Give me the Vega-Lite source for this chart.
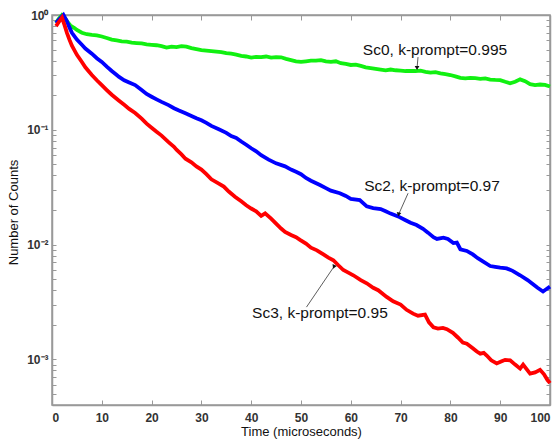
{
  "$schema": "https://vega.github.io/schema/vega-lite/v6.json",
  "width": 498,
  "height": 390,
  "autosize": {"type": "none"},
  "padding": {"left": 52, "top": 15, "right": 4, "bottom": 36},
  "background": "white",
  "config": {
    "view": {"stroke": "#999999", "strokeWidth": 1.5},
    "font": "Liberation Sans",
    "axis": {
      "grid": false,
      "domainColor": "#999999",
      "domainWidth": 1.5,
      "tickColor": "#999999",
      "tickWidth": 1,
      "labelFont": "Liberation Sans",
      "labelFontSize": 12,
      "labelColor": "#333333",
      "titleFont": "Liberation Sans",
      "titleFontSize": 13,
      "titleFontWeight": "normal",
      "titleColor": "#111111"
    }
  },
  "datasets": {
    "curves": [
      {"t":0.8,"v":0.85,"s":"Sc0"},{"t":1.3,"v":0.92,"s":"Sc0"},{"t":2.0,"v":1.0,"s":"Sc0"},{"t":2.7,"v":0.93,"s":"Sc0"},{"t":3.2,"v":0.86,"s":"Sc0"},{"t":3.7,"v":0.81,"s":"Sc0"},{"t":4.5,"v":0.77,"s":"Sc0"},{"t":5,"v":0.74,"s":"Sc0"},{"t":6,"v":0.70,"s":"Sc0"},{"t":7,"v":0.68,"s":"Sc0"},{"t":8,"v":0.67,"s":"Sc0"},{"t":9,"v":0.665,"s":"Sc0"},{"t":10,"v":0.65,"s":"Sc0"},{"t":11,"v":0.63,"s":"Sc0"},{"t":12,"v":0.61,"s":"Sc0"},{"t":13,"v":0.60,"s":"Sc0"},{"t":14,"v":0.59,"s":"Sc0"},{"t":15,"v":0.585,"s":"Sc0"},{"t":16,"v":0.575,"s":"Sc0"},{"t":17,"v":0.57,"s":"Sc0"},{"t":18,"v":0.565,"s":"Sc0"},{"t":19,"v":0.555,"s":"Sc0"},{"t":20,"v":0.55,"s":"Sc0"},{"t":21,"v":0.545,"s":"Sc0"},{"t":22,"v":0.535,"s":"Sc0"},{"t":23,"v":0.52,"s":"Sc0"},{"t":24,"v":0.53,"s":"Sc0"},{"t":25,"v":0.525,"s":"Sc0"},{"t":26,"v":0.535,"s":"Sc0"},{"t":27,"v":0.53,"s":"Sc0"},{"t":28,"v":0.515,"s":"Sc0"},{"t":29,"v":0.505,"s":"Sc0"},{"t":30,"v":0.495,"s":"Sc0"},{"t":32,"v":0.485,"s":"Sc0"},{"t":34,"v":0.475,"s":"Sc0"},{"t":35,"v":0.465,"s":"Sc0"},{"t":36,"v":0.46,"s":"Sc0"},{"t":37,"v":0.452,"s":"Sc0"},{"t":38,"v":0.44,"s":"Sc0"},{"t":39,"v":0.435,"s":"Sc0"},{"t":40,"v":0.425,"s":"Sc0"},{"t":41,"v":0.432,"s":"Sc0"},{"t":42,"v":0.43,"s":"Sc0"},{"t":43,"v":0.435,"s":"Sc0"},{"t":44,"v":0.425,"s":"Sc0"},{"t":45,"v":0.43,"s":"Sc0"},{"t":46,"v":0.428,"s":"Sc0"},{"t":47,"v":0.415,"s":"Sc0"},{"t":48,"v":0.405,"s":"Sc0"},{"t":49,"v":0.395,"s":"Sc0"},{"t":50,"v":0.39,"s":"Sc0"},{"t":51,"v":0.395,"s":"Sc0"},{"t":52,"v":0.40,"s":"Sc0"},{"t":53,"v":0.40,"s":"Sc0"},{"t":54,"v":0.405,"s":"Sc0"},{"t":55,"v":0.395,"s":"Sc0"},{"t":56,"v":0.39,"s":"Sc0"},{"t":57,"v":0.395,"s":"Sc0"},{"t":58,"v":0.38,"s":"Sc0"},{"t":59,"v":0.375,"s":"Sc0"},{"t":60,"v":0.367,"s":"Sc0"},{"t":61,"v":0.37,"s":"Sc0"},{"t":62,"v":0.36,"s":"Sc0"},{"t":63,"v":0.35,"s":"Sc0"},{"t":64,"v":0.345,"s":"Sc0"},{"t":65,"v":0.34,"s":"Sc0"},{"t":66,"v":0.335,"s":"Sc0"},{"t":67,"v":0.33,"s":"Sc0"},{"t":68,"v":0.335,"s":"Sc0"},{"t":69,"v":0.33,"s":"Sc0"},{"t":70,"v":0.328,"s":"Sc0"},{"t":71,"v":0.325,"s":"Sc0"},{"t":72,"v":0.325,"s":"Sc0"},{"t":73,"v":0.325,"s":"Sc0"},{"t":74,"v":0.327,"s":"Sc0"},{"t":75,"v":0.32,"s":"Sc0"},{"t":76,"v":0.315,"s":"Sc0"},{"t":77,"v":0.318,"s":"Sc0"},{"t":78,"v":0.31,"s":"Sc0"},{"t":79,"v":0.305,"s":"Sc0"},{"t":80,"v":0.30,"s":"Sc0"},{"t":81,"v":0.292,"s":"Sc0"},{"t":82,"v":0.283,"s":"Sc0"},{"t":83,"v":0.28,"s":"Sc0"},{"t":84,"v":0.283,"s":"Sc0"},{"t":85,"v":0.282,"s":"Sc0"},{"t":86,"v":0.278,"s":"Sc0"},{"t":87,"v":0.28,"s":"Sc0"},{"t":88,"v":0.274,"s":"Sc0"},{"t":89,"v":0.272,"s":"Sc0"},{"t":90,"v":0.271,"s":"Sc0"},{"t":91,"v":0.262,"s":"Sc0"},{"t":92,"v":0.254,"s":"Sc0"},{"t":93,"v":0.262,"s":"Sc0"},{"t":94,"v":0.275,"s":"Sc0"},{"t":95,"v":0.265,"s":"Sc0"},{"t":96,"v":0.25,"s":"Sc0"},{"t":97,"v":0.245,"s":"Sc0"},{"t":98,"v":0.248,"s":"Sc0"},{"t":99,"v":0.246,"s":"Sc0"},{"t":100,"v":0.238,"s":"Sc0"},

      {"t":0.8,"v":0.85,"s":"Sc2"},{"t":1.5,"v":0.92,"s":"Sc2"},{"t":2.3,"v":1.0,"s":"Sc2"},{"t":3,"v":0.88,"s":"Sc2"},{"t":3.5,"v":0.78,"s":"Sc2"},{"t":4,"v":0.70,"s":"Sc2"},{"t":5,"v":0.61,"s":"Sc2"},{"t":6,"v":0.55,"s":"Sc2"},{"t":6.7,"v":0.51,"s":"Sc2"},{"t":8,"v":0.46,"s":"Sc2"},{"t":9,"v":0.42,"s":"Sc2"},{"t":10,"v":0.39,"s":"Sc2"},{"t":11,"v":0.355,"s":"Sc2"},{"t":12,"v":0.325,"s":"Sc2"},{"t":13,"v":0.30,"s":"Sc2"},{"t":13.4,"v":0.29,"s":"Sc2"},{"t":14.5,"v":0.27,"s":"Sc2"},{"t":15.5,"v":0.258,"s":"Sc2"},{"t":16.7,"v":0.245,"s":"Sc2"},{"t":18,"v":0.222,"s":"Sc2"},{"t":19,"v":0.205,"s":"Sc2"},{"t":20,"v":0.194,"s":"Sc2"},{"t":21,"v":0.184,"s":"Sc2"},{"t":22,"v":0.175,"s":"Sc2"},{"t":23.4,"v":0.164,"s":"Sc2"},{"t":24.5,"v":0.154,"s":"Sc2"},{"t":25.5,"v":0.147,"s":"Sc2"},{"t":26.8,"v":0.139,"s":"Sc2"},{"t":28,"v":0.132,"s":"Sc2"},{"t":29,"v":0.126,"s":"Sc2"},{"t":30,"v":0.121,"s":"Sc2"},{"t":31,"v":0.115,"s":"Sc2"},{"t":32,"v":0.108,"s":"Sc2"},{"t":33.5,"v":0.101,"s":"Sc2"},{"t":35,"v":0.094,"s":"Sc2"},{"t":36,"v":0.088,"s":"Sc2"},{"t":37,"v":0.085,"s":"Sc2"},{"t":38,"v":0.079,"s":"Sc2"},{"t":39,"v":0.074,"s":"Sc2"},{"t":40,"v":0.069,"s":"Sc2"},{"t":41,"v":0.065,"s":"Sc2"},{"t":42,"v":0.060,"s":"Sc2"},{"t":43.5,"v":0.055,"s":"Sc2"},{"t":45,"v":0.051,"s":"Sc2"},{"t":46.8,"v":0.048,"s":"Sc2"},{"t":48,"v":0.045,"s":"Sc2"},{"t":49,"v":0.043,"s":"Sc2"},{"t":50,"v":0.041,"s":"Sc2"},{"t":51,"v":0.038,"s":"Sc2"},{"t":52,"v":0.036,"s":"Sc2"},{"t":53.8,"v":0.033,"s":"Sc2"},{"t":55,"v":0.031,"s":"Sc2"},{"t":56,"v":0.0295,"s":"Sc2"},{"t":57.8,"v":0.028,"s":"Sc2"},{"t":59,"v":0.0265,"s":"Sc2"},{"t":60,"v":0.025,"s":"Sc2"},{"t":61.8,"v":0.0244,"s":"Sc2"},{"t":63.2,"v":0.0215,"s":"Sc2"},{"t":64.5,"v":0.0208,"s":"Sc2"},{"t":66,"v":0.0204,"s":"Sc2"},{"t":67,"v":0.0195,"s":"Sc2"},{"t":68,"v":0.0186,"s":"Sc2"},{"t":69.5,"v":0.0176,"s":"Sc2"},{"t":71,"v":0.0163,"s":"Sc2"},{"t":72,"v":0.0155,"s":"Sc2"},{"t":73.2,"v":0.0148,"s":"Sc2"},{"t":74.5,"v":0.0137,"s":"Sc2"},{"t":75.5,"v":0.0127,"s":"Sc2"},{"t":76.6,"v":0.0116,"s":"Sc2"},{"t":77.3,"v":0.0112,"s":"Sc2"},{"t":78.6,"v":0.0115,"s":"Sc2"},{"t":79.5,"v":0.0112,"s":"Sc2"},{"t":80.6,"v":0.0103,"s":"Sc2"},{"t":81.3,"v":0.0104,"s":"Sc2"},{"t":82,"v":0.0091,"s":"Sc2"},{"t":83.3,"v":0.0088,"s":"Sc2"},{"t":84.5,"v":0.0082,"s":"Sc2"},{"t":85.5,"v":0.0076,"s":"Sc2"},{"t":86.6,"v":0.0071,"s":"Sc2"},{"t":88,"v":0.0065,"s":"Sc2"},{"t":89,"v":0.0064,"s":"Sc2"},{"t":90,"v":0.0063,"s":"Sc2"},{"t":91.3,"v":0.0062,"s":"Sc2"},{"t":92.5,"v":0.0059,"s":"Sc2"},{"t":94,"v":0.0054,"s":"Sc2"},{"t":95.5,"v":0.0049,"s":"Sc2"},{"t":96.6,"v":0.0045,"s":"Sc2"},{"t":97.5,"v":0.0042,"s":"Sc2"},{"t":98.6,"v":0.0039,"s":"Sc2"},{"t":99.3,"v":0.0041,"s":"Sc2"},{"t":100,"v":0.0043,"s":"Sc2"},

      {"t":0.8,"v":0.80,"s":"Sc3"},{"t":1.3,"v":0.86,"s":"Sc3"},{"t":2,"v":0.95,"s":"Sc3"},{"t":2.5,"v":0.82,"s":"Sc3"},{"t":3,"v":0.70,"s":"Sc3"},{"t":3.5,"v":0.61,"s":"Sc3"},{"t":4,"v":0.54,"s":"Sc3"},{"t":5,"v":0.45,"s":"Sc3"},{"t":6,"v":0.39,"s":"Sc3"},{"t":6.7,"v":0.35,"s":"Sc3"},{"t":8,"v":0.30,"s":"Sc3"},{"t":9,"v":0.27,"s":"Sc3"},{"t":10,"v":0.245,"s":"Sc3"},{"t":11,"v":0.222,"s":"Sc3"},{"t":12,"v":0.202,"s":"Sc3"},{"t":13.4,"v":0.18,"s":"Sc3"},{"t":14.5,"v":0.165,"s":"Sc3"},{"t":15.5,"v":0.152,"s":"Sc3"},{"t":16.7,"v":0.14,"s":"Sc3"},{"t":18,"v":0.125,"s":"Sc3"},{"t":19,"v":0.113,"s":"Sc3"},{"t":20,"v":0.104,"s":"Sc3"},{"t":21,"v":0.096,"s":"Sc3"},{"t":22,"v":0.089,"s":"Sc3"},{"t":23.4,"v":0.078,"s":"Sc3"},{"t":24.5,"v":0.071,"s":"Sc3"},{"t":25,"v":0.067,"s":"Sc3"},{"t":26,"v":0.061,"s":"Sc3"},{"t":26.8,"v":0.056,"s":"Sc3"},{"t":28,"v":0.052,"s":"Sc3"},{"t":29,"v":0.048,"s":"Sc3"},{"t":30,"v":0.045,"s":"Sc3"},{"t":31,"v":0.041,"s":"Sc3"},{"t":32,"v":0.037,"s":"Sc3"},{"t":33.5,"v":0.034,"s":"Sc3"},{"t":34.5,"v":0.032,"s":"Sc3"},{"t":35.5,"v":0.029,"s":"Sc3"},{"t":36.8,"v":0.026,"s":"Sc3"},{"t":38,"v":0.0238,"s":"Sc3"},{"t":39,"v":0.022,"s":"Sc3"},{"t":40,"v":0.0206,"s":"Sc3"},{"t":41,"v":0.0195,"s":"Sc3"},{"t":42,"v":0.0178,"s":"Sc3"},{"t":42.8,"v":0.0187,"s":"Sc3"},{"t":44,"v":0.0168,"s":"Sc3"},{"t":45,"v":0.0152,"s":"Sc3"},{"t":46,"v":0.0138,"s":"Sc3"},{"t":46.8,"v":0.0129,"s":"Sc3"},{"t":48,"v":0.0121,"s":"Sc3"},{"t":49,"v":0.0116,"s":"Sc3"},{"t":49.8,"v":0.011,"s":"Sc3"},{"t":51,"v":0.0102,"s":"Sc3"},{"t":52,"v":0.0094,"s":"Sc3"},{"t":53.2,"v":0.0089,"s":"Sc3"},{"t":54.5,"v":0.0082,"s":"Sc3"},{"t":55.5,"v":0.0077,"s":"Sc3"},{"t":56.5,"v":0.0073,"s":"Sc3"},{"t":57.5,"v":0.0066,"s":"Sc3"},{"t":58.5,"v":0.006,"s":"Sc3"},{"t":59.5,"v":0.0057,"s":"Sc3"},{"t":60.5,"v":0.0054,"s":"Sc3"},{"t":62,"v":0.0049,"s":"Sc3"},{"t":63.2,"v":0.0046,"s":"Sc3"},{"t":64.5,"v":0.0042,"s":"Sc3"},{"t":65.5,"v":0.004,"s":"Sc3"},{"t":67.2,"v":0.0035,"s":"Sc3"},{"t":68.5,"v":0.0032,"s":"Sc3"},{"t":70,"v":0.003,"s":"Sc3"},{"t":71.2,"v":0.0027,"s":"Sc3"},{"t":72.5,"v":0.0025,"s":"Sc3"},{"t":73.5,"v":0.0024,"s":"Sc3"},{"t":74.9,"v":0.00245,"s":"Sc3"},{"t":75.7,"v":0.0021,"s":"Sc3"},{"t":76.6,"v":0.0019,"s":"Sc3"},{"t":77.5,"v":0.00185,"s":"Sc3"},{"t":78.5,"v":0.00188,"s":"Sc3"},{"t":79.3,"v":0.00183,"s":"Sc3"},{"t":80.5,"v":0.0017,"s":"Sc3"},{"t":81.5,"v":0.00155,"s":"Sc3"},{"t":82.5,"v":0.0014,"s":"Sc3"},{"t":83.3,"v":0.00137,"s":"Sc3"},{"t":84.5,"v":0.00125,"s":"Sc3"},{"t":85.3,"v":0.00117,"s":"Sc3"},{"t":86,"v":0.00112,"s":"Sc3"},{"t":86.7,"v":0.00114,"s":"Sc3"},{"t":87.3,"v":0.00108,"s":"Sc3"},{"t":88.2,"v":0.00098,"s":"Sc3"},{"t":89.3,"v":0.00092,"s":"Sc3"},{"t":90.3,"v":0.00096,"s":"Sc3"},{"t":91,"v":0.00099,"s":"Sc3"},{"t":92,"v":0.00098,"s":"Sc3"},{"t":93,"v":0.0009,"s":"Sc3"},{"t":94,"v":0.00083,"s":"Sc3"},{"t":94.6,"v":0.0009,"s":"Sc3"},{"t":95.3,"v":0.00082,"s":"Sc3"},{"t":96,"v":0.00075,"s":"Sc3"},{"t":97,"v":0.00077,"s":"Sc3"},{"t":98,"v":0.00081,"s":"Sc3"},{"t":98.8,"v":0.00074,"s":"Sc3"},{"t":99.5,"v":0.00066,"s":"Sc3"},{"t":100,"v":0.00062,"s":"Sc3"}
    ],
    "notes": [
      {"s":"Sc0","label":"Sc0, k-prompt=0.995","lx":76.9,"ly":0.495,"ax":73.5,"ay":0.43,"bx":73.3,"by":0.345},
      {"s":"Sc2","label":"Sc2, k-prompt=0.97","lx":76.3,"ly":0.0323,"ax":71.5,"ay":0.028,"bx":69.6,"by":0.0183},
      {"s":"Sc3","label":"Sc3, k-prompt=0.95","lx":53.8,"ly":0.00252,"ax":51.1,"ay":0.00285,"bx":56.6,"by":0.0064}
    ]
  },
  "layer": [
    {
      "data": {"name": "curves"},
      "mark": {"type": "line", "strokeWidth": 3.8, "interpolate": "linear"},
      "encoding": {
        "x": {
          "field": "t", "type": "quantitative",
          "scale": {"domain": [0, 100], "nice": false, "zero": false},
          "axis": {
            "orient": "bottom",
            "title": "Time (microseconds)",
            "values": [0,10,20,30,40,50,60,70,80,90,100],
            "tickSize": -5,
            "labelPadding": 12,
            "titlePadding": 2,
            "labelFontWeight": "bold"
          }
        },
        "y": {
          "field": "v", "type": "quantitative",
          "scale": {"type": "log", "domain": [0.0004, 1], "nice": false},
          "axis": {
            "orient": "left",
            "title": "Number of Counts",
            "values": [0.0005,0.0006,0.0007,0.0008,0.0009,0.001,0.002,0.003,0.004,0.005,0.006,0.007,0.008,0.009,0.01,0.02,0.03,0.04,0.05,0.06,0.07,0.08,0.09,0.1,0.2,0.3,0.4,0.5,0.6,0.7,0.8,0.9,1],
            "labelExpr": "datum.value == 1 ? '10⁰' : datum.value == 0.1 ? '10⁻¹' : datum.value == 0.01 ? '10⁻²' : datum.value == 0.001 ? '10⁻³' : ''",
            "tickSize": -4,
            "labelPadding": 8,
            "titleX": -32,
            "titleY": 197,
            "labelFontWeight": "bold"
          }
        },
        "color": {
          "field": "s", "type": "nominal",
          "scale": {"domain": ["Sc0", "Sc2", "Sc3"], "range": ["#11f011", "#0000ff", "#ff0000"]},
          "legend": null
        }
      }
    },
    {
      "data": {"name": "notes"},
      "mark": {"type": "rule", "stroke": "#333333", "strokeWidth": 0.8},
      "encoding": {
        "x": {"field": "ax", "type": "quantitative", "axis": null},
        "y": {"field": "ay", "type": "quantitative", "scale": {"type": "log"}, "axis": null},
        "x2": {"field": "bx"},
        "y2": {"field": "by"}
      }
    },
    {
      "data": {"name": "notes"},
      "mark": {"type": "point", "shape": "triangle-down", "filled": true, "color": "#111111", "size": 22, "opacity": 1},
      "encoding": {
        "x": {"field": "bx", "type": "quantitative", "axis": null},
        "y": {"field": "by", "type": "quantitative", "scale": {"type": "log"}, "axis": null},
        "angle": {"field": "s", "type": "nominal", "scale": {"domain": ["Sc0", "Sc2", "Sc3"], "range": [0, 24, 213]}, "legend": null}
      }
    },
    {
      "data": {"name": "notes"},
      "mark": {"type": "text", "font": "Liberation Sans", "fontSize": 15.5, "color": "#111111", "align": "center", "baseline": "middle"},
      "encoding": {
        "x": {"field": "lx", "type": "quantitative", "axis": null},
        "y": {"field": "ly", "type": "quantitative", "scale": {"type": "log"}, "axis": null},
        "text": {"field": "label"}
      }
    },
    {
      "data": {"name": "curves"},
      "mark": {"type": "point", "opacity": 0},
      "encoding": {
        "x": {
          "field": "t", "type": "quantitative",
          "axis": {"orient": "top", "title": null, "labels": false, "values": [0,10,20,30,40,50,60,70,80,90,100], "tickSize": -5}
        },
        "y": {
          "field": "v", "type": "quantitative", "scale": {"type": "log"},
          "axis": {"orient": "right", "title": null, "labels": false, "tickSize": -4,
            "values": [0.0005,0.0006,0.0007,0.0008,0.0009,0.001,0.002,0.003,0.004,0.005,0.006,0.007,0.008,0.009,0.01,0.02,0.03,0.04,0.05,0.06,0.07,0.08,0.09,0.1,0.2,0.3,0.4,0.5,0.6,0.7,0.8,0.9,1]}
        }
      }
    }
  ],
  "resolve": {"axis": {"x": "independent", "y": "independent"}}
}
